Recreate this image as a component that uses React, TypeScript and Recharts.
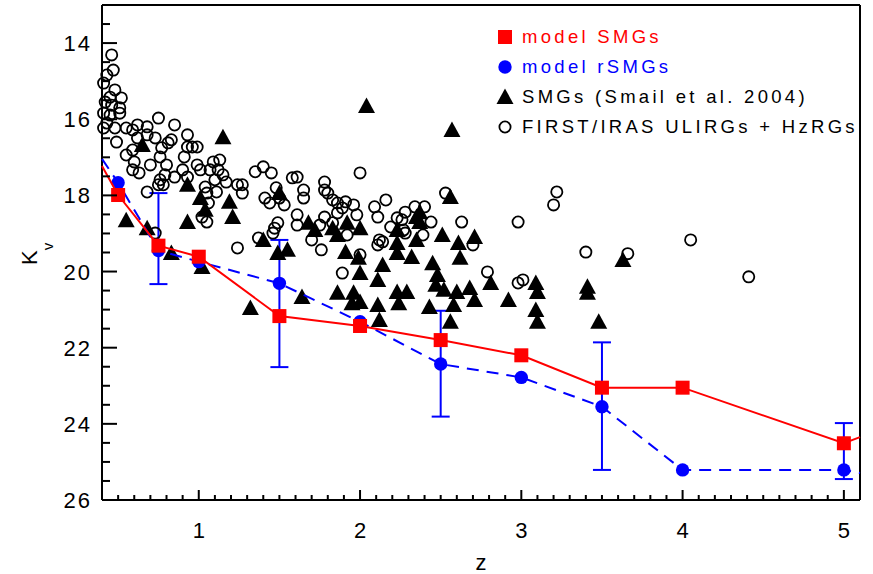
import React from "react";
import { ComposedChart, XAxis, YAxis, Scatter, ErrorBar, Legend, Label } from "recharts";

const FONT = "'Liberation Sans', Arial, sans-serif";
const RED = "#ff0000";
const BLUE = "#0000ff";
const BLACK = "#000000";

// ---- model curves (z, K_v) ----
const modelZ = [0.5, 0.75, 1.0, 1.5, 2.0, 2.5, 3.0, 3.5, 4.0, 5.0];
const smgModelK = [17.99, 19.32, 19.61, 21.17, 21.43, 21.8, 22.2, 23.05, 23.05, 24.51];
const rsmgModelK = [17.67, 19.45, 19.74, 20.31, 21.32, 22.43, 22.78, 23.55, 25.21, 25.21];
// curve values where the lines meet the frame
const edgeZ = [0.4, 5.1];
const smgEdgeK = [17.23, 24.35];
const rsmgEdgeK = [17.04, 25.29];
// rSMG error bars: K bounds
const errZ = [0.75, 1.5, 2.5, 3.5, 5.0];
const errTopK = [17.94, 19.17, 21.03, 21.86, 23.98];
const errBottomK = [20.33, 22.51, 23.81, 25.21, 25.45];

// ---- observed SMGs (Smail et al. 2004): [z, K] ----
const smgObs: [number, number][] = [
  [1.15, 16.47], [0.65, 16.68], [0.93, 17.72], [0.55, 18.65], [0.68, 18.86], [0.93, 18.7],
  [0.83, 19.51], [1.02, 19.88], [1.01, 18.07], [1.04, 18.38], [1.19, 18.17], [1.21, 18.57],
  [1.4, 19.17], [1.5, 17.94], [1.49, 19.51], [1.55, 19.43], [1.32, 20.96], [1.64, 20.67],
  [1.68, 18.72], [1.72, 18.91], [1.83, 18.86], [1.92, 18.72], [2.0, 18.86], [1.91, 19.49],
  [1.99, 19.64], [2.0, 20.04], [2.14, 19.83], [2.11, 20.22], [1.86, 20.56], [1.96, 20.56],
  [2.0, 20.8], [1.95, 20.83], [2.11, 20.88], [2.12, 21.27], [2.23, 20.54], [2.29, 20.54],
  [2.24, 20.83], [2.23, 18.91], [2.23, 19.25], [2.23, 19.51], [2.32, 19.62], [2.35, 18.57],
  [2.35, 19.17], [2.56, 18.04], [2.37, 18.44], [2.37, 18.7], [2.51, 19.04], [2.61, 19.25],
  [2.71, 19.09], [2.62, 19.64], [2.45, 19.78], [2.48, 20.09], [2.47, 20.35], [2.52, 20.48],
  [2.6, 20.54], [2.43, 20.93], [2.58, 20.88], [2.56, 21.32], [2.68, 20.43], [2.71, 20.75],
  [2.81, 20.3], [2.92, 20.75], [3.09, 20.3], [3.1, 20.54], [3.09, 21.01], [3.1, 21.32],
  [2.04, 15.65], [2.57, 16.28], [3.63, 19.7], [3.41, 20.4], [3.41, 20.56], [3.48, 21.32],
  [1.86, 19.04],
];

// ---- FIRST/IRAS ULIRGs + HzRGs: [z, K] ----
const ulirgObs: [number, number][] = [
  [0.46, 14.31], [0.47, 14.71], [0.43, 14.84], [0.41, 15.05], [0.48, 15.23], [0.52, 15.44],
  [0.45, 15.42], [0.42, 15.55], [0.46, 15.63], [0.51, 15.7], [0.51, 15.84], [0.41, 15.84],
  [0.45, 15.89], [0.43, 16.1], [0.48, 16.23], [0.41, 16.23], [0.55, 16.23], [0.59, 16.28],
  [0.62, 16.15], [0.68, 16.2], [0.75, 15.97], [0.85, 16.15], [0.49, 16.6], [0.62, 16.49],
  [0.68, 16.41], [0.73, 16.49], [0.55, 16.94], [0.59, 16.81], [0.6, 17.12], [0.59, 17.33],
  [0.63, 17.41], [0.7, 17.2], [0.76, 16.99], [0.77, 16.75], [0.81, 16.62], [0.83, 16.54],
  [0.8, 17.2], [0.79, 17.46], [0.76, 17.59], [0.78, 17.72], [0.75, 17.72], [0.68, 17.91],
  [0.85, 17.52], [0.91, 16.99], [0.93, 16.73], [0.93, 16.41], [0.96, 16.73], [0.99, 16.73],
  [0.9, 17.33], [0.93, 17.52], [0.99, 17.2], [1.01, 17.33], [1.07, 17.33], [1.09, 17.12],
  [1.13, 17.07], [1.12, 17.33], [1.15, 17.46], [1.1, 17.59], [1.11, 17.91], [1.17, 17.65],
  [1.04, 17.78], [1.05, 17.94], [1.06, 18.2], [1.02, 18.57], [1.05, 18.7], [1.24, 17.72],
  [1.27, 17.72], [1.27, 17.94], [1.24, 19.38], [1.35, 17.38], [1.4, 17.25], [1.41, 18.07],
  [1.37, 19.12], [0.73, 18.99], [1.45, 17.41], [1.58, 17.54], [1.61, 17.52], [1.48, 17.8],
  [1.44, 18.2], [1.5, 18.07], [1.53, 18.25], [1.65, 17.86], [1.65, 18.07], [1.61, 18.51],
  [1.61, 18.78], [1.49, 18.72], [1.47, 18.86], [1.46, 18.99], [1.7, 19.17], [1.76, 19.43],
  [1.78, 17.65], [1.78, 17.86], [1.8, 17.94], [1.83, 18.12], [1.86, 18.2], [1.89, 18.33],
  [1.91, 18.17], [1.96, 18.25], [1.98, 18.51], [1.78, 18.57], [1.75, 18.78], [1.83, 18.72],
  [1.86, 18.46], [1.92, 19.04], [2.0, 17.41], [2.0, 19.56], [1.89, 20.04], [2.09, 18.3],
  [2.11, 18.57], [2.16, 18.12], [2.12, 19.17], [2.11, 19.3], [2.14, 19.22], [2.19, 18.83],
  [2.23, 18.59], [2.28, 18.44], [2.34, 18.3], [2.4, 18.3], [2.26, 18.64], [2.27, 18.91],
  [2.28, 18.99], [2.44, 18.7], [2.39, 19.04], [2.53, 17.94], [2.63, 18.7], [2.7, 19.3],
  [2.79, 20.01], [2.98, 18.7], [3.22, 17.91], [3.2, 18.25], [2.98, 20.3], [3.01, 20.22],
  [3.4, 19.49], [3.66, 19.53], [4.05, 19.17], [4.41, 20.14],
];

// ---- axes ----
const xLabelTicks = [1, 2, 3, 4, 5];
const xTicks = [
  0.5, 0.6, 0.7, 0.8, 0.9, 1, 1.1, 1.2, 1.3, 1.4, 1.5, 1.6, 1.7, 1.8, 1.9, 2, 2.1, 2.2, 2.3, 2.4,
  2.5, 2.6, 2.7, 2.8, 2.9, 3, 3.1, 3.2, 3.3, 3.4, 3.5, 3.6, 3.7, 3.8, 3.9, 4, 4.1, 4.2, 4.3, 4.4,
  4.5, 4.6, 4.7, 4.8, 4.9, 5,
];
const yLabelTicks = [14, 16, 18, 20, 22, 24, 26];
const yTicks = [
  13.5, 14, 14.5, 15, 15.5, 16, 16.5, 17, 17.5, 18, 18.5, 19, 19.5, 20, 20.5, 21, 21.5, 22, 22.5,
  23, 23.5, 24, 24.5, 25, 25.5, 26,
];
const X_DOMAIN: [number, number] = [0.4, 5.1];
const Y_DOMAIN: [number, number] = [13, 26];

// ---- legend ----
const legendLabels = ["model SMGs", "model rSMGs", "SMGs (Smail et al. 2004)", "FIRST/IRAS ULIRGs + HzRGs"];
const legendColors = [RED, BLUE, BLACK, BLACK];
const legendMarkers = ["square", "disc", "triangle", "ring"];

// ---- derived tables ----
const pts = (zs: number[], ks: number[]) => zs.map((z, i) => ({ z, k: ks[i] }));
const smgPoints = pts(modelZ, smgModelK);
const rsmgPoints = pts(modelZ, rsmgModelK);
const smgLine = [{ z: edgeZ[0], k: smgEdgeK[0] }, ...smgPoints, { z: edgeZ[1], k: smgEdgeK[1] }];
const rsmgLine = [{ z: edgeZ[0], k: rsmgEdgeK[0] }, ...rsmgPoints, { z: edgeZ[1], k: rsmgEdgeK[1] }];
const rsmgErr = errZ.map((z, i) => {
  const k = rsmgModelK[modelZ.indexOf(z)];
  return { z, k, err: [k - errTopK[i], errBottomK[i] - k] };
});
const smgObsData = smgObs.map(([z, k]) => ({ z, k }));
const ulirgData = ulirgObs.map(([z, k]) => ({ z, k }));

// ---- marker shapes ----
const Tri = (p: any) => (
  <polygon
    points={`${p.cx},${p.cy - 8.5} ${p.cx - 8.5},${p.cy + 7} ${p.cx + 8.5},${p.cy + 7}`}
    fill={BLACK}
  />
);
const Ring = (p: any) => <circle cx={p.cx} cy={p.cy} r={5.6} fill="none" stroke={BLACK} strokeWidth={1.8} />;
const Disc = (p: any) => <circle cx={p.cx} cy={p.cy} r={6.7} fill={BLUE} />;
const Sq = (p: any) => <rect x={p.cx - 7} y={p.cy - 7} width={14} height={14} fill={RED} />;
const Nothing = () => <g />;

// ---- ticks ----
const TICK_W = 2;
const LABEL_FS = 22;
const BottomTick = (p: any) => {
  const v = p.payload.value;
  const major = xLabelTicks.includes(v);
  return (
    <g>
      <line x1={p.x} x2={p.x} y1={p.y} y2={p.y - (major ? 10 : 5)} stroke={BLACK} strokeWidth={TICK_W} />
      {major && (
        <text x={p.x} y={p.y + 38} textAnchor="middle" fontSize={LABEL_FS} fontFamily={FONT} fill={BLACK}>
          {v}
        </text>
      )}
    </g>
  );
};
const TopTick = (p: any) => {
  const major = xLabelTicks.includes(p.payload.value);
  return <line x1={p.x} x2={p.x} y1={p.y} y2={p.y + (major ? 10 : 5)} stroke={BLACK} strokeWidth={TICK_W} />;
};
const LeftTick = (p: any) => {
  const v = p.payload.value;
  const major = yLabelTicks.includes(v);
  return (
    <g>
      <line x1={p.x} x2={p.x + (major ? 15 : 8)} y1={p.y} y2={p.y} stroke={BLACK} strokeWidth={TICK_W} />
      {major && (
        <text x={p.x - 10} y={p.y + 8} textAnchor="end" fontSize={LABEL_FS} letterSpacing={2} fontFamily={FONT} fill={BLACK}>
          {v}
        </text>
      )}
    </g>
  );
};
const RightTick = (p: any) => {
  const major = yLabelTicks.includes(p.payload.value);
  return <line x1={p.x} x2={p.x - (major ? 15 : 8)} y1={p.y} y2={p.y} stroke={BLACK} strokeWidth={TICK_W} />;
};

const XTitle = (p: any) => {
  const vb = p.viewBox || { x: 102, y: 500, width: 758, height: 0 };
  return (
    <text x={vb.x + vb.width / 2} y={500 + 70} textAnchor="middle" fontSize={LABEL_FS} fontFamily={FONT} fill={BLACK}>
      z
    </text>
  );
};
const YTitle = (p: any) => {
  const vb = p.viewBox || { x: 101, y: 5, width: 1, height: 495 };
  const cy = vb.y + vb.height / 2;
  return (
    <text transform="rotate(-90)" x={-(cy + 12.5)} y={37} fontSize={LABEL_FS} fontFamily={FONT} fill={BLACK}>
      K
      <tspan dy={16} fontSize={15}>
        v
      </tspan>
    </text>
  );
};

const LegendMarker = ({ kind }: { kind: string }) => (
  <svg width={20} height={20} style={{ display: "block" }}>
    {kind === "square" && <rect x={3} y={3} width={14} height={14} fill={RED} />}
    {kind === "disc" && <circle cx={10} cy={10} r={6.7} fill={BLUE} />}
    {kind === "triangle" && <polygon points="10,1.5 1.5,17 18.5,17" fill={BLACK} />}
    {kind === "ring" && <circle cx={10} cy={10} r={5.6} fill="none" stroke={BLACK} strokeWidth={1.8} />}
  </svg>
);

const LegendBox = () => (
  <div style={{ fontFamily: FONT, fontSize: 18.5, letterSpacing: 3.3 }}>
    {legendLabels.map((t, i) => (
      <div key={t} style={{ display: "flex", alignItems: "center", height: 30 }}>
        <LegendMarker kind={legendMarkers[i]} />
        <span style={{ marginLeft: 7, color: legendColors[i], whiteSpace: "nowrap", lineHeight: "30px" }}>{t}</span>
      </div>
    ))}
  </div>
);

const axisLine = { stroke: BLACK, strokeWidth: 2 };

export default function App() {
  return (
    <div style={{ position: "absolute", left: 0, top: 0, width: 873, height: 574, background: "#fff" }}>
      <ComposedChart width={873} height={574} margin={{ top: 4, right: 12, bottom: 73, left: 101 }}>
        <XAxis
          xAxisId="b"
          dataKey="z"
          type="number"
          domain={X_DOMAIN}
          ticks={xTicks}
          interval={0}
          height={1}
          tickSize={0}
          tickMargin={0}
          tickLine={false}
          axisLine={axisLine}
          tick={(p: any) => <BottomTick {...p} />}
        >
          <Label content={(p: any) => <XTitle {...p} />} />
        </XAxis>
        <XAxis
          xAxisId="t"
          orientation="top"
          type="number"
          domain={X_DOMAIN}
          ticks={xTicks}
          interval={0}
          height={1}
          tickSize={0}
          tickMargin={0}
          tickLine={false}
          axisLine={axisLine}
          tick={(p: any) => <TopTick {...p} />}
        />
        <YAxis
          yAxisId="l"
          dataKey="k"
          type="number"
          domain={Y_DOMAIN}
          reversed
          ticks={yTicks}
          interval={0}
          width={1}
          tickSize={0}
          tickMargin={0}
          tickLine={false}
          axisLine={axisLine}
          tick={(p: any) => <LeftTick {...p} />}
        >
          <Label content={(p: any) => <YTitle {...p} />} />
        </YAxis>
        <YAxis
          yAxisId="r"
          orientation="right"
          type="number"
          domain={Y_DOMAIN}
          reversed
          ticks={yTicks}
          interval={0}
          width={1}
          tickSize={0}
          tickMargin={0}
          tickLine={false}
          axisLine={axisLine}
          tick={(p: any) => <RightTick {...p} />}
        />

        <Scatter name="FIRST/IRAS ULIRGs + HzRGs" data={ulirgData} xAxisId="b" yAxisId="l" shape={Ring} isAnimationActive={false} />
        <Scatter name="SMGs (Smail et al. 2004)" data={smgObsData} xAxisId="b" yAxisId="l" shape={Tri} isAnimationActive={false} />

        <Scatter
          name="rSMG curve"
          data={rsmgLine}
          xAxisId="b"
          yAxisId="l"
          shape={Nothing}
          line={{ stroke: BLUE, strokeWidth: 2, strokeDasharray: "12 8" }}
          isAnimationActive={false}
        />
        <Scatter name="rSMG errors" data={rsmgErr} xAxisId="b" yAxisId="l" shape={Nothing} isAnimationActive={false}>
          <ErrorBar dataKey="err" direction="y" width={9} stroke={BLUE} strokeWidth={2} isAnimationActive={false} />
        </Scatter>
        <Scatter name="model rSMGs" data={rsmgPoints} xAxisId="b" yAxisId="l" shape={Disc} isAnimationActive={false} />

        <Scatter
          name="SMG curve"
          data={smgLine}
          xAxisId="b"
          yAxisId="l"
          shape={Nothing}
          line={{ stroke: RED, strokeWidth: 2 }}
          isAnimationActive={false}
        />
        <Scatter name="model SMGs" data={smgPoints} xAxisId="b" yAxisId="l" shape={Sq} isAnimationActive={false} />

        <Legend
          layout="horizontal"
          verticalAlign="middle"
          align="center"
          content={() => <LegendBox />}
          wrapperStyle={{ top: 22, left: 495, width: 370, height: 120 }}
        />
      </ComposedChart>
    </div>
  );
}
